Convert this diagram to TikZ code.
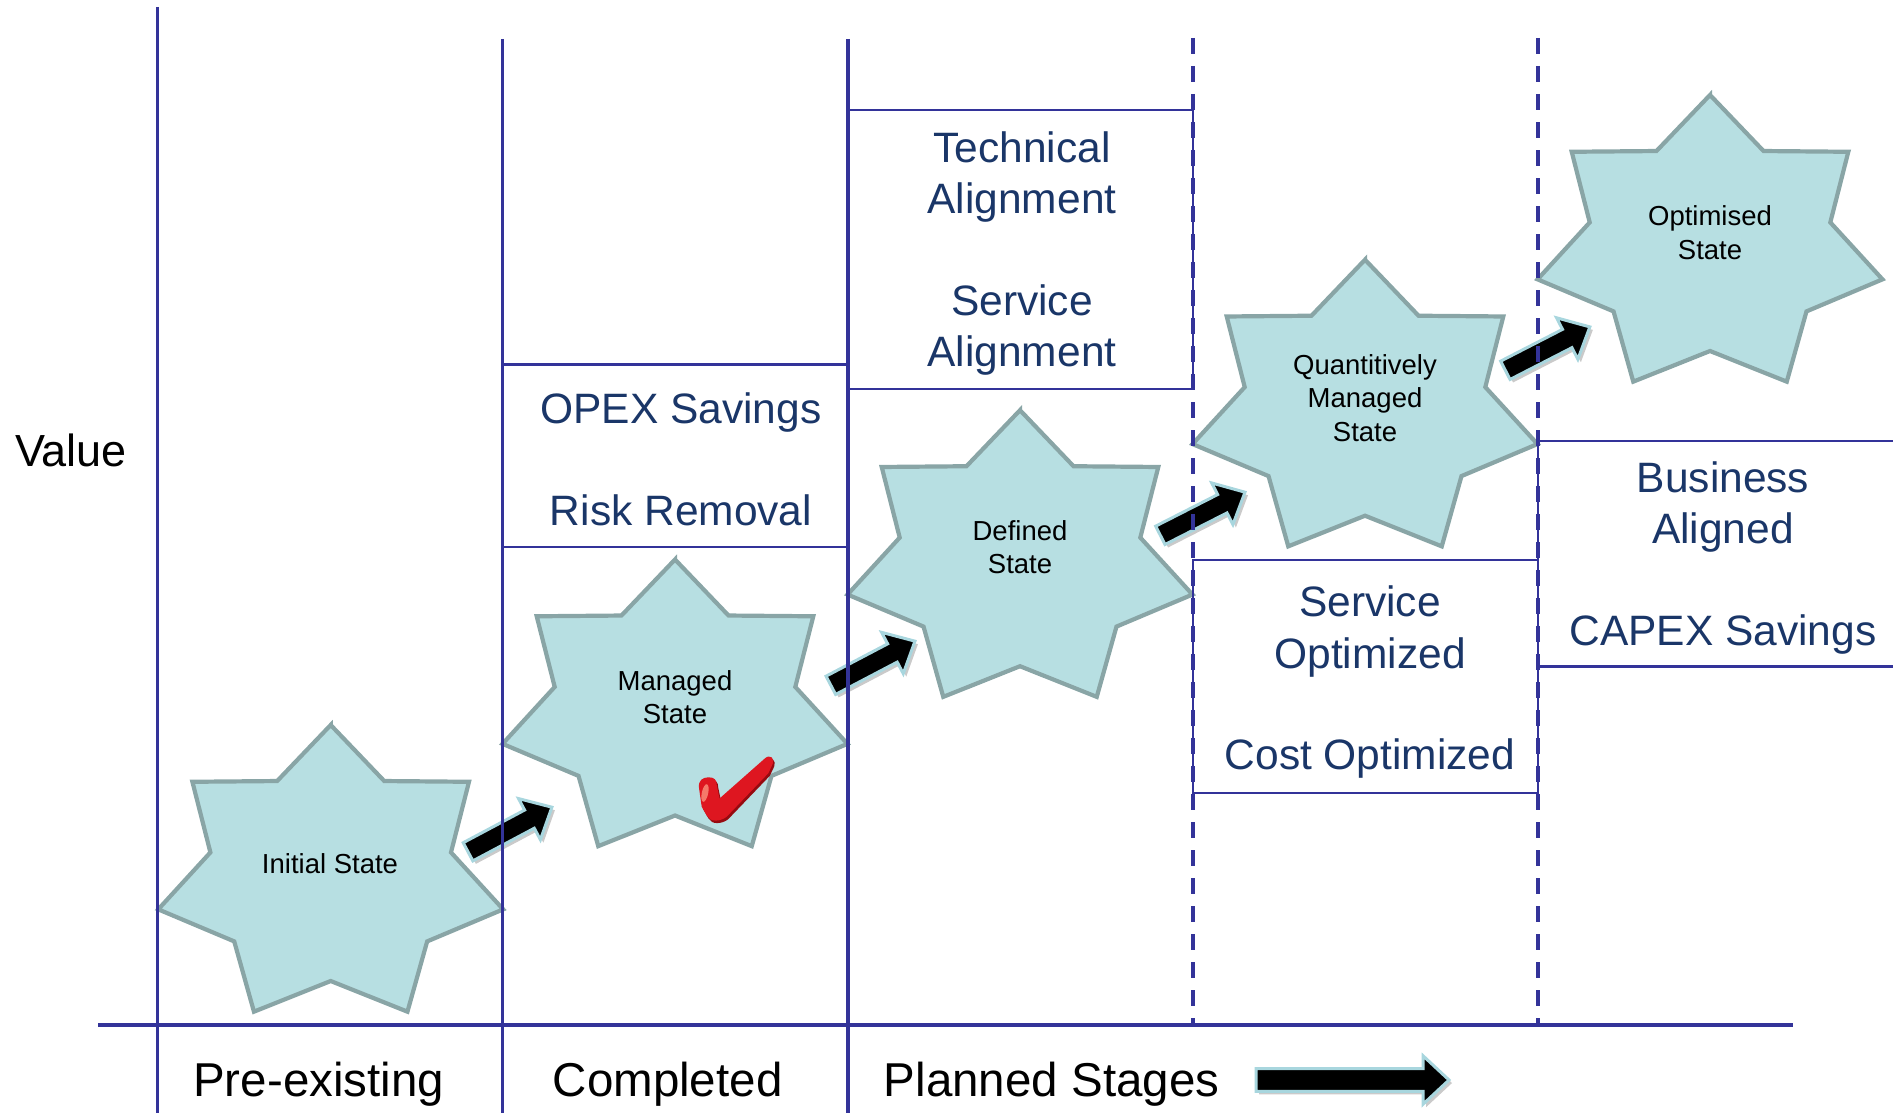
\documentclass[tikz,border=0pt]{standalone}
\usepackage{fontspec}
\setmainfont{Liberation Sans}
\usetikzlibrary{shapes.arrows,shadows}
\definecolor{colline}{RGB}{51,51,153}
\definecolor{navytext}{RGB}{26,54,104}
\definecolor{starfill}{RGB}{183,223,226}
\definecolor{starborder}{RGB}{137,165,166}
\definecolor{arrowline}{RGB}{168,214,222}
\definecolor{checkred}{RGB}{222,22,32}
\definecolor{checkdark}{RGB}{150,10,16}
\definecolor{checklight}{RGB}{244,122,106}
\newcommand\drawstar[2]{%
  \begin{scope}[shift={(#1,#2)}]
    \path[starshape] (90:176.9 and 150.8)
      \foreach \k in {0,...,6}{ -- ({115.7143+\k*51.4286}:123.4 and 105.2)
                                -- ({141.4286+\k*51.4286}:176.9 and 150.8)} -- cycle;
  \end{scope}}
\begin{document}
\begin{tikzpicture}[x=0.5pt,y=0.5pt,
  starshape/.style={fill=starfill,draw=starborder,line width=2.1pt,line join=miter},
  startext/.style={align=center,inner sep=0pt,font=\fontsize{13.75pt}{16.75pt}\selectfont,text=black},
  boxtext/.style={align=center,inner sep=0pt,font=\fontsize{21.25pt}{25.5pt}\selectfont,text=navytext},
  stagetext/.style={inner sep=0pt,font=\fontsize{23.75pt}{28pt}\selectfont,text=black},
  solidcol/.style={draw=colline,line width=1.65pt},
  dashcol/.style={draw=colline,line width=2pt,dash pattern=on 8pt off 6pt},
  boxline/.style={draw=colline,line width=1.2pt},
  bigarrow/.style={single arrow,fill=black,draw=arrowline,line width=1.5pt,
    inner xsep=0pt,inner ysep=4.4pt,single arrow head extend=6.5pt,
    single arrow tip angle=85,minimum height=47.5pt,minimum width=0pt,anchor=tail,
    drop shadow={shadow xshift=1.5pt,shadow yshift=-1.5pt,opacity=0.35,fill=black!60}},
]
\useasboundingbox (0,0) rectangle (1893,-1113);

% stars
\drawstar{330.7}{-875.8}
\drawstar{675}{-710.3}
\drawstar{1020}{-561}
\drawstar{1365}{-410.5}
\drawstar{1710}{-245.8}

\node[startext] (initial) at (330,-863.3) {Initial State};
\node[startext] (managed) at (675,-697) {Managed\\State};
\node[startext] (defined) at (1020,-547) {Defined\\State};
\node[startext] (quant) at (1365,-398) {Quantitively\\Managed\\State};
\node[startext] (optim) at (1710,-232.5) {Optimised\\State};

% check mark
\fill[checkdark] ([shift={(1.5,-2.5)}]708.3,-777.3) .. controls ++(5.7,0.3) and ++(0.3,5) .. ([shift={(1.5,-2.5)}]716.7,-785)
  -- ([shift={(1.5,-2.5)}]719.5,-798.5) -- ([shift={(1.5,-2.5)}]765,-758.3)
  .. controls ++(5,4.3) and ++(2.3,6) .. ([shift={(1.5,-2.5)}]772.7,-764)
  -- ([shift={(1.5,-2.5)}]768.3,-773.3) -- ([shift={(1.5,-2.5)}]726.7,-816.7)
  .. controls ++(-6.7,-5.3) and ++(3,-6) .. ([shift={(1.5,-2.5)}]707,-816)
  -- ([shift={(1.5,-2.5)}]701.7,-806.7) -- ([shift={(1.5,-2.5)}]699,-788)
  .. controls ++(-1,8) and ++(-5.3,-0.2) .. ([shift={(1.5,-2.5)}]708.3,-777.3) -- cycle;
\fill[checkred] (708.3,-777.3) .. controls ++(5.7,0.3) and ++(0.3,5) .. (716.7,-785)
  -- (719.5,-798.5) -- (765,-758.3)
  .. controls ++(5,4.3) and ++(2.3,6) .. (772.7,-764)
  -- (768.3,-773.3) -- (726.7,-816.7)
  .. controls ++(-6.7,-5.3) and ++(3,-6) .. (707,-816)
  -- (701.7,-806.7) -- (699,-788)
  .. controls ++(-1,8) and ++(-5.3,-0.2) .. (708.3,-777.3) -- cycle;
\fill[checklight,rotate around={-12:(705,-793)}] (705,-793) ellipse [x radius=3.2,y radius=9];

% arrows
\node[bigarrow,rotate=28] (a1) at (466.7,-852.5) {};
\node[bigarrow,rotate=27.7] (a2) at (829.5,-686) {};
\node[bigarrow,rotate=27] (a3) at (1159,-536) {};
\node[bigarrow,rotate=27.2] (a4) at (1504,-371) {};
\node[bigarrow,inner ysep=4.9pt,single arrow head extend=6.4pt,single arrow tip angle=86,
      minimum height=96.5pt] (a5) at (1254.5,-1080) {};

% boxes
\draw[boxline] (502.5,-364.6) rectangle (848,-547);
\draw[boxline] (848,-110) rectangle (1193,-389);
\draw[boxline] (1193,-560) rectangle (1538,-793);
\draw[boxline] (1900,-440.7) -- (1538,-440.7) -- (1538,-666.4) -- (1900,-666.4);

% columns and axis
\draw[solidcol] (157.5,-7) -- (157.5,-1113);
\draw[solidcol] (502.5,-39) -- (502.5,-1113);
\draw[solidcol] (848,-39) -- (848,-1113);
\draw[dashcol] (1193,-38) -- (1193,-1025);
\draw[dashcol] (1538,-38) -- (1538,-1025);
\draw[draw=colline,line width=2pt] (98,-1025) -- (1793,-1025);

% box texts
\node[boxtext] (opex) at (681,-459.4) {OPEX Savings\\[25.5pt]Risk Removal};
\node[boxtext] (tech) at (1022,-254) {Technical\\Alignment\\[25.5pt]Service\\Alignment};
\node[boxtext] (servopt) at (1370,-682.5) {Service\\Optimized\\[25.5pt]Cost Optimized};
\node[boxtext] (busi) at (1723,-558.5) {Business\\Aligned\\[25.5pt]CAPEX Savings};

% labels
\node[inner sep=0pt,font=\fontsize{22.5pt}{27pt}\selectfont] (value) at (71,-450) {Value};
\node[stagetext] (pre) at (318.7,-1084) {Pre-existing};
\node[stagetext] (comp) at (667.6,-1084) {Completed};
\node[stagetext] (plan) at (1051.6,-1084) {Planned Stages};
\end{tikzpicture}
\end{document}
